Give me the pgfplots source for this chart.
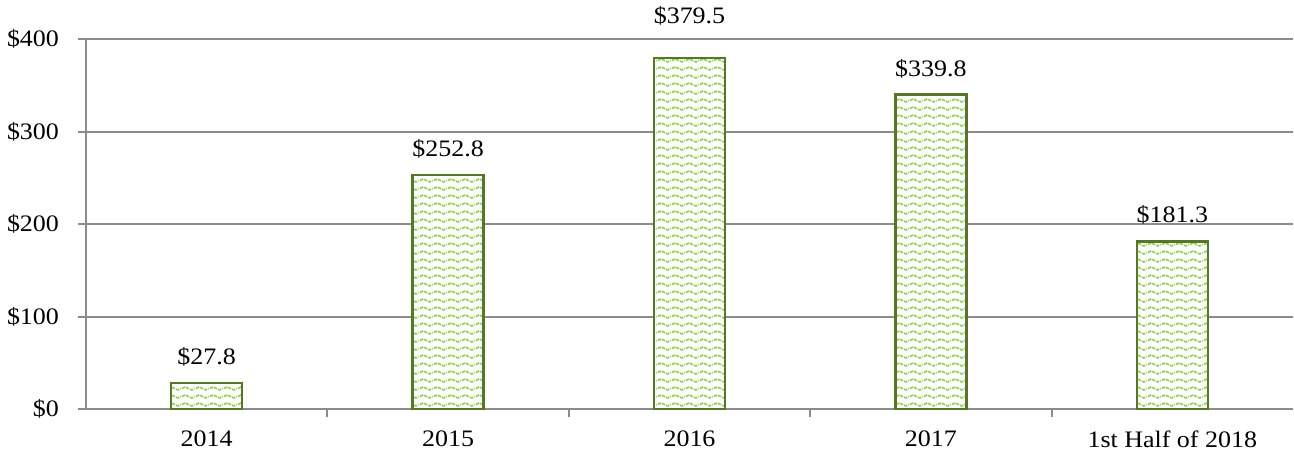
\documentclass[border=0pt]{standalone}
\usepackage{fontspec}
\setmainfont{Liberation Serif}[FakeStretch=1.1]
\usepackage{pgfplots}
\usepackage{pgfplotstable}
\pgfplotsset{compat=1.18}
\usetikzlibrary{patterns.meta}
\definecolor{edge}{RGB}{88,118,42}
\definecolor{wave}{RGB}{140,210,70}
\definecolor{gridc}{RGB}{140,140,140}
\tikzdeclarepattern{
  name=wavy,
  type=uncolored,
  bounding box={(0pt,-2pt) and (7pt,2pt)},
  tile size={(7pt,4pt)},
  code={
    \draw[line width=0.9pt, dash pattern=on 1.8pt off 0.6pt]
      (0pt,0pt) sin (1.75pt,0.85pt) cos (3.5pt,0pt) sin (5.25pt,-0.85pt) cos (7pt,0pt);
  }
}
\pgfplotstableread{
x y s
0 27.8 0
1 252.8 0
2 379.5 8
3 339.8 0
4 181.3 0
}\data
\begin{document}
\begin{tikzpicture}
\begin{axis}[
  name=ax,
  width=603.5pt, height=185pt, scale only axis,
  xmin=-0.5, xmax=4.5, ymin=0, ymax=400,
  ytick={0,100,200,300,400},
  yticklabel={\$\pgfmathprintnumber{\tick}},
  /pgf/number format/assume math mode=true,
  ymajorgrids, grid style={gridc, line width=1pt},
  axis lines*=left,
  axis line style={gridc, line width=1pt},
  tick align=outside,
  major tick length=4pt,
  tick style={gridc, line width=1pt},
  xtick={0,1,2,3,4},
  xticklabels={2014,2015,2016,2017,1st Half of 2018},
  xtick style={draw=none},
  extra x ticks={0.5,1.5,2.5,3.5},
  extra x tick labels={},
  extra x tick style={grid=none, xtick style={draw=gridc, line width=1pt}},
  tick label style={font=\fontsize{11.8}{14}\selectfont, black},
  yticklabel style={xshift=-6pt},
  xticklabel style={yshift=-3.5pt},
  visualization depends on={\thisrow{s} \as \myshift},
  nodes near coords={\$\pgfmathprintnumber[fixed,precision=1,fixed zerofill]{\pgfplotspointmeta}},
  nodes near coords style={font=\fontsize{11.8}{14}\selectfont, black, anchor=south, yshift=4.5pt, yshift=\myshift pt},
]
\addplot[ybar, bar width=35.5pt, draw=edge, line width=1.2pt, fill=white,
  postaction={pattern=wavy, pattern color=wave}]
  table[x=x, y=y] {\data};
\end{axis}
\pgfresetboundingbox
\path ([xshift=-43pt,yshift=-21pt]ax.south west) rectangle ([xshift=0.5pt,yshift=19.5pt]ax.north east);
\end{tikzpicture}
\end{document}
